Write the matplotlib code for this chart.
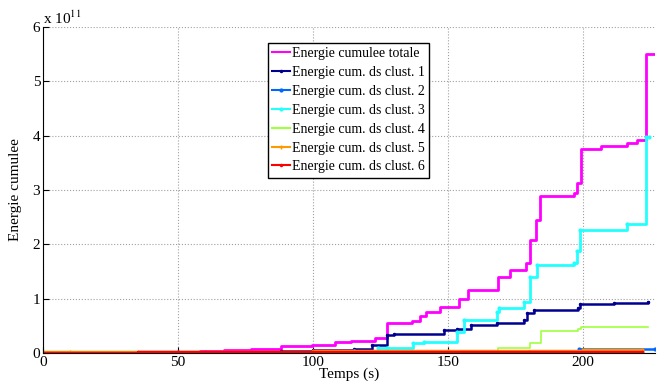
import matplotlib.pyplot as plt

plt.rcParams['font.family'] = ['Liberation Serif', 'DejaVu Serif']
plt.rcParams['mathtext.fontset'] = 'stix'

# values in units of 1e11
t_total = [0, 58, 67, 77, 88, 99.5, 108, 114, 123, 127.5, 136.5, 139.5, 142, 147, 154, 157.5,
           168.6, 173, 179, 180.5, 182.5, 184, 196.6, 197.6, 199.3, 206.5, 216.4, 220, 223.2, 226.7]
e_total = [0.02, 0.04, 0.05, 0.07, 0.12, 0.14, 0.2, 0.22, 0.27, 0.56, 0.58, 0.68, 0.76, 0.84, 1.0, 1.16,
           1.39, 1.53, 1.65, 2.08, 2.45, 2.88, 2.94, 3.12, 3.75, 3.8, 3.86, 3.92, 5.5, 5.5]

t_c1 = [0, 60, 88, 100, 115, 122, 127.3, 130, 148.5, 153.5, 158.4, 168.3, 178.2, 179.4, 182, 198, 199, 211.6, 224]
e_c1 = [0.0, 0.01, 0.03, 0.05, 0.08, 0.14, 0.33, 0.35, 0.42, 0.45, 0.52, 0.55, 0.6, 0.73, 0.79, 0.82, 0.9, 0.92, 0.93]

t_c2 = [0, 50, 120, 198.5, 226.5]
e_c2 = [0.005, 0.01, 0.012, 0.07, 0.07]

t_c3 = [0, 100, 115, 124, 127.5, 137, 141, 153.5, 156, 168, 169, 178, 180.5, 183, 196.6, 197.6, 199,
        216.4, 223.2, 224.3]
e_c3 = [0.01, 0.02, 0.04, 0.09, 0.1, 0.18, 0.2, 0.39, 0.6, 0.75, 0.82, 0.94, 1.4, 1.62, 1.65, 1.87, 2.27,
        2.38, 3.98, 3.98]

t_c4 = [0, 168.5, 180.3, 184.5, 198, 199.3, 224]
e_c4 = [0.0, 0.1, 0.18, 0.4, 0.44, 0.47, 0.48]

t_c5 = [0, 10, 100, 150, 200, 222]
e_c5 = [0.01, 0.02, 0.03, 0.04, 0.05, 0.05]

t_c6 = [0, 35, 100, 180, 222]
e_c6 = [0.005, 0.01, 0.015, 0.02, 0.02]

labels = ['Energie cumulee totale', 'Energie cum. ds clust. 1', 'Energie cum. ds clust. 2',
          'Energie cum. ds clust. 3', 'Energie cum. ds clust. 4', 'Energie cum. ds clust. 5',
          'Energie cum. ds clust. 6']

fig = plt.figure(figsize=(6.66, 3.81), dpi=100)
ax = fig.add_axes([0.0646, 0.0735, 0.919, 0.856])

ax.plot(t_total, e_total, drawstyle='steps-post', color='#ff00ff', lw=2, label=labels[0])
ax.plot(t_c1, e_c1, drawstyle='steps-post', color='#000090', lw=1.8, marker='.', ms=3, label=labels[1])
ax.plot(t_c2, e_c2, drawstyle='steps-post', color='#0066ff', lw=1.8, marker='.', ms=4, label=labels[2])
ax.plot(t_c3, e_c3, drawstyle='steps-post', color='#22ffff', lw=2, marker='.', ms=4, label=labels[3])
ax.plot(t_c4, e_c4, drawstyle='steps-post', color='#a0ff40', lw=1.2, label=labels[4])
ax.plot(t_c5, e_c5, drawstyle='steps-post', color='#ff9900', lw=2.5, marker='+', ms=3, label=labels[5])
ax.plot(t_c6, e_c6, drawstyle='steps-post', color='#ff0000', lw=2.5, marker='.', ms=3, label=labels[6])

ax.set_xlim(0, 226.7)
ax.set_ylim(0, 6)
ax.set_xticks([0, 50, 100, 150, 200])
ax.set_yticks(range(7))
ax.tick_params(direction='in', length=4, labelsize=11, pad=2)
ax.grid(True, linestyle=':', color='#a0a0a0', lw=0.8)
ax.spines['top'].set_visible(False)
ax.spines['right'].set_visible(False)

ax.set_xlabel('Temps (s)', fontsize=11, labelpad=-1)
ax.set_ylabel('Energie cumulee', fontsize=11, labelpad=8)
ax.text(0.0, 1.0, r'x 10$^{11}$', transform=ax.transAxes, ha='left', va='bottom', fontsize=11)

leg = ax.legend(loc='upper left', bbox_to_anchor=(0.367, 0.95), fontsize=10, fancybox=False,
                framealpha=1, edgecolor='black', handlelength=1.3, handletextpad=0.15,
                labelspacing=0.42, borderpad=0.3, borderaxespad=0)
leg.get_frame().set_linewidth(1)
for line in leg.get_lines():
    line.set_linewidth(1.5)

fig.savefig('out.png', dpi=100)
